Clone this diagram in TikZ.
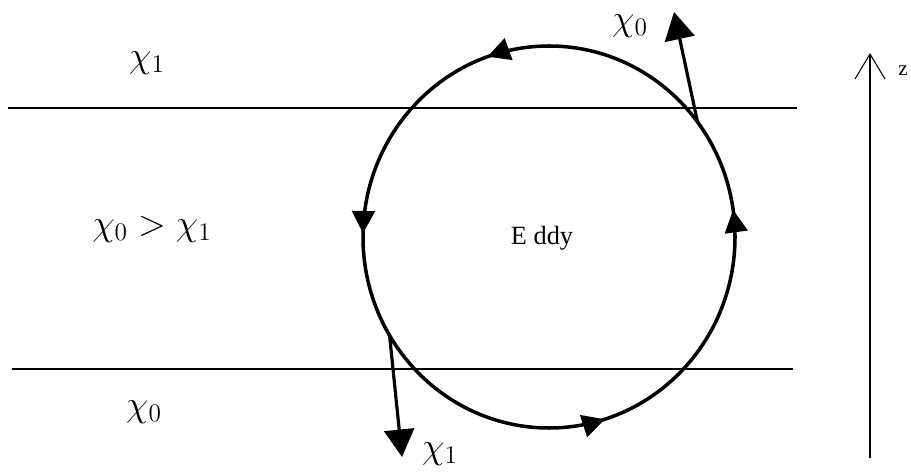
\documentclass[tikz,border=0pt]{standalone}
\usepackage{fontspec}
\setmainfont{Liberation Serif}
\usetikzlibrary{arrows.meta,decorations.markings}

\begin{document}
\begin{tikzpicture}[
    layer/.style={line width=0.8pt},
    flux/.style={-{Triangle[length=5.5mm,width=6mm]},line width=1.8pt},
    chi/.style={font=\fontsize{22}{26}\selectfont,inner sep=0pt},
    swirl/.style={line width=2pt,postaction={decorate},
      decoration={markings,
        mark=at position 0.023 with {\arrow{Triangle[length=4.5mm,width=4.5mm]}},
        mark=at position 0.303 with {\arrow{Triangle[length=4.5mm,width=4.5mm]}},
        mark=at position 0.497 with {\arrow{Triangle[length=4.5mm,width=4.5mm]}},
        mark=at position 0.798 with {\arrow{Triangle[length=4.5mm,width=4.5mm]}}}}]

    \useasboundingbox (0,0) rectangle (18.22,9.5);

    % layer boundaries
    \coordinate (topL) at (0.16,7.34);
    \coordinate (topR) at (15.94,7.34);
    \coordinate (botL) at (0.24,2.12);
    \coordinate (botR) at (15.86,2.12);
    \draw[layer] (topL) -- (topR);
    \draw[layer] (botL) -- (botR);

    \node[chi] (upper) at (2.94,8.24) {$\chi_1$};
    \node[chi] (middle) at (3.04,4.92) {$\chi_0 > \chi_1$};
    \node[chi] (lower) at (2.88,1.26) {$\chi_0$};

    % the eddy
    \coordinate (c) at (10.98,4.76);
    \draw[swirl] (c) ellipse [x radius=3.72, y radius=3.82];
    \node[font=\fontsize{15}{18}\selectfont] (eddy) at (10.84,4.74) {E ddy};

    \path (c) ++(37:3.72 and 3.82) coordinate (rise);
    \path (c) ++(211:3.72 and 3.82) coordinate (sink);
    \coordinate (tip0) at (13.48,9.26);
    \coordinate (tip1) at (8.04,0.36);
    \draw[flux] (rise) -- (tip0);
    \draw[flux] (sink) -- (tip1);
    \node[chi] (out0) at (12.6,8.98) {$\chi_0$};
    \node[chi] (out1) at (8.8,0.42) {$\chi_1$};

    % vertical axis
    \coordinate (zb) at (17.4,0.34);
    \coordinate (zt) at (17.4,8.44);
    \draw[-{Straight Barb[length=5mm,width=6mm]},line width=0.6pt] (zb) -- (zt);
    \node[font=\fontsize{12}{14}\selectfont] (zlab) at (18.06,8.08) {z};
\end{tikzpicture}
\end{document}
